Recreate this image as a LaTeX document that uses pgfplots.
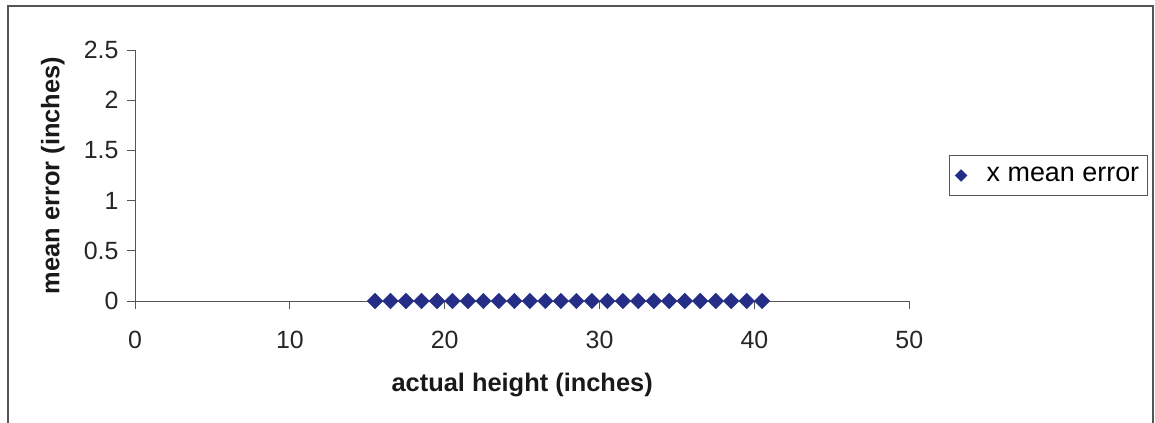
\documentclass[border=0pt]{standalone}
\usepackage{fontspec}
\setmainfont{Liberation Sans}
\usepackage{pgfplots}
\pgfplotsset{compat=1.18}
\definecolor{marknavy}{RGB}{36,46,134}
\definecolor{axisgray}{RGB}{85,85,85}
\begin{document}
\begin{tikzpicture}
% chart area frame
\useasboundingbox (0bp,0bp) rectangle (1155bp,423bp);
\draw[axisgray, line width=1.2bp] (8bp,-2bp) -- (8bp,417bp) -- (1153bp,417bp) -- (1153bp,-2bp);
\begin{axis}[
  at={(135bp,122bp)}, anchor=south west,
  scale only axis, width=774.3bp, height=251bp,
  xmin=0, xmax=50, ymin=0, ymax=2.5,
  axis x line=bottom, axis y line=left,
  axis line style={-, axisgray, line width=0.9bp},
  xtick={0,10,20,30,40,50}, ytick={0,0.5,1,1.5,2,2.5},
  tick style={axisgray, line width=0.9bp},
  tick align=outside, major tick length=8bp,
  /pgf/number format/assume math mode=true,
  ticklabel style={font=\fontsize{25}{30}\selectfont, text=black!85},
  xticklabel style={yshift=-19bp},
  yticklabel style={xshift=-5bp},
  xlabel={actual height (inches)}, ylabel={mean error (inches)},
  label style={font=\bfseries\fontsize{25.5}{30}\selectfont, text=black!90},
  xlabel style={at={(axis description cs:0.5,-0.335)}, anchor=center},
  ylabel style={at={(axis description cs:-0.106,0.5)}, anchor=center},
  clip=false,
  legend style={at={(axis description cs:1.0513,0.5)}, anchor=west,
    draw=axisgray, line width=0.8bp, font=\fontsize{27}{32}\selectfont,
    inner xsep=6bp, inner ysep=10bp, column sep=18bp},
  legend image code/.code={\draw[mark repeat=2,mark phase=2, mark size=4bp]
    plot coordinates {(0bp,0bp) (17bp,0bp) (34bp,0bp)};},
]
\addplot[only marks, mark=square*, mark size=5.5bp,
  mark options={rotate=45, fill=marknavy, draw=marknavy}]
  coordinates {
  (15.5,0) (16.5,0) (17.5,0) (18.5,0) (19.5,0) (20.5,0) (21.5,0)
  (22.5,0) (23.5,0) (24.5,0) (25.5,0) (26.5,0) (27.5,0) (28.5,0)
  (29.5,0) (30.5,0) (31.5,0) (32.5,0) (33.5,0) (34.5,0) (35.5,0)
  (36.5,0) (37.5,0) (38.5,0) (39.5,0) (40.5,0)
  };
\addlegendentry{x mean error}
\end{axis}
\end{tikzpicture}
\end{document}
